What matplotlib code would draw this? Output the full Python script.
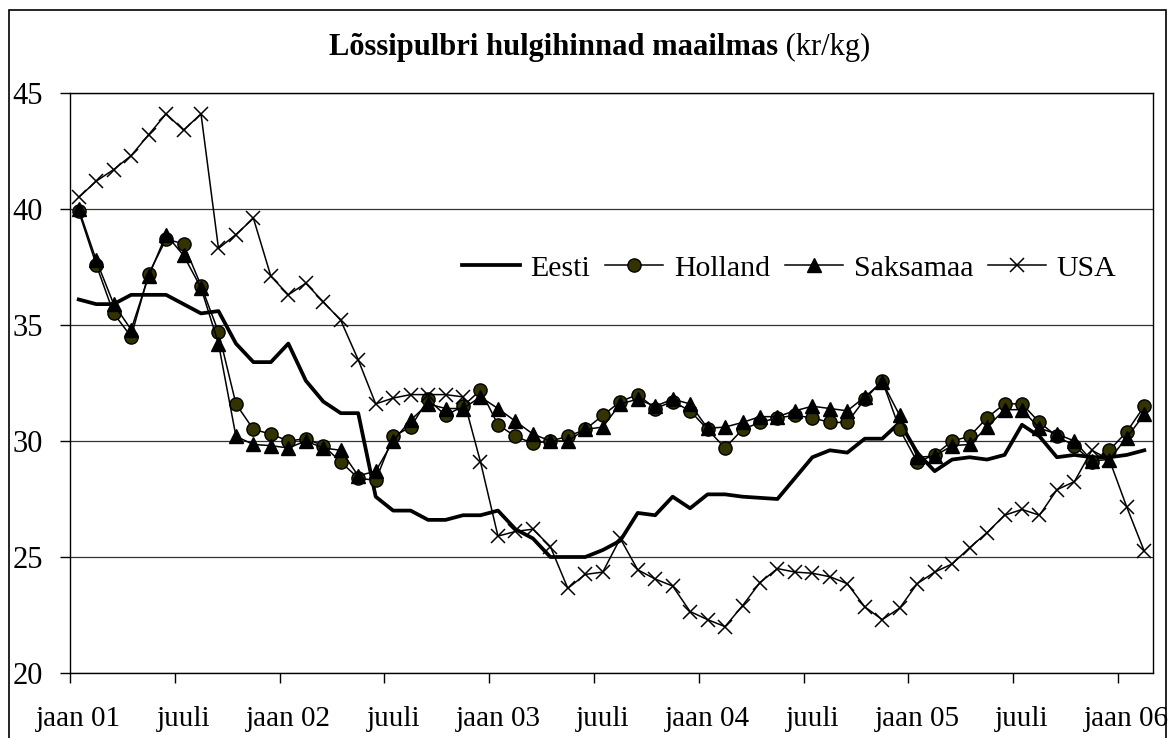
import numpy as np
import matplotlib
matplotlib.use('Agg')
import matplotlib.pyplot as plt
from matplotlib.patches import Rectangle

plt.rcParams['font.family'] = ['Liberation Serif', 'DejaVu Serif']

# monthly prices jaan 2001 .. veebr 2006 (kr/kg)
eesti = [36.1, 35.9, 35.9, 36.3, 36.3, 36.3, 35.9, 35.5, 35.6, 34.2, 33.4, 33.4,
         34.2, 32.6, 31.7, 31.2, 31.2, 27.6, 27.0, 27.0, 26.6, 26.6, 26.8, 26.8,
         27.0, 26.2, 25.8, 25.0, 25.0, 25.0, 25.3, 25.7, 26.9, 26.8, 27.6, 27.1,
         27.7, 27.7, 27.6, 27.55, 27.5, 28.4, 29.3, 29.6, 29.5, 30.1, 30.1, 30.8,
         29.5, 28.7, 29.2, 29.3, 29.2, 29.4, 30.7, 30.2, 29.3, 29.4, 29.3, 29.3,
         29.4, 29.6]
holland = [39.9, 37.6, 35.5, 34.5, 37.2, 38.7, 38.5, 36.7, 34.7, 31.6, 30.5, 30.3,
           30.0, 30.1, 29.8, 29.1, 28.4, 28.3, 30.2, 30.6, 31.8, 31.1, 31.5, 32.2,
           30.7, 30.2, 29.9, 30.0, 30.2, 30.5, 31.1, 31.7, 32.0, 31.4, 31.7, 31.3,
           30.5, 29.7, 30.5, 30.8, 31.0, 31.1, 31.0, 30.8, 30.8, 31.8, 32.6, 30.5,
           29.1, 29.4, 30.0, 30.2, 31.0, 31.6, 31.6, 30.8, 30.2, 29.8, 29.1, 29.6,
           30.4, 31.5]
saksamaa = [40.0, 37.8, 35.9, 34.8, 37.1, 38.9, 38.0, 36.6, 34.2, 30.2, 29.85, 29.8,
            29.7, 30.0, 29.7, 29.6, 28.5, 28.7, 30.0, 30.9, 31.6, 31.4, 31.4, 31.9,
            31.4, 30.85, 30.3, 30.0, 30.0, 30.5, 30.6, 31.6, 31.8, 31.5, 31.8, 31.6,
            30.55, 30.6, 30.8, 31.05, 31.05, 31.3, 31.5, 31.4, 31.3, 31.9, 32.55, 31.1,
            29.3, 29.35, 29.8, 29.85, 30.6, 31.35, 31.35, 30.55, 30.3, 30.0, 29.15, 29.2,
            30.15, 31.15]
usa = [40.5, 41.2, 41.7, 42.3, 43.2, 44.1, 43.4, 44.1, 38.3, 38.9, 39.6, 37.1,
       36.3, 36.8, 36.0, 35.2, 33.5, 31.6, 31.85, 32.0, 32.0, 32.0, 31.9, 29.1,
       25.9, 26.1, 26.2, 25.45, 23.65, 24.25, 24.35, 25.8, 24.45, 24.05, 23.75, 22.65,
       22.3, 22.0, 22.9, 23.9, 24.5, 24.35, 24.3, 24.15, 23.85, 22.85, 22.3, 22.8,
       23.85, 24.35, 24.7, 25.4, 26.05, 26.8, 27.05, 26.8, 27.9, 28.25, 29.6, 29.2,
       27.15, 25.25]
tick_labels = ['jaan 01', 'juuli', 'jaan 02', 'juuli', 'jaan 03', 'juuli',
               'jaan 04', 'juuli', 'jaan 05', 'juuli', 'jaan 06']

n = len(eesti)
x = np.arange(n) + 0.5  # points in the middle of each month

fig = plt.figure(figsize=(11.74, 7.38), dpi=100)
ax = fig.add_axes([70/1174, 65/738, 1083/1174, 580/738])

ax.plot(x, eesti, color='black', lw=2.7, label='Eesti', zorder=3)
ax.plot(x, holland, color='black', lw=1.1, marker='o', ms=9.5, mfc='#333300',
        mec='black', mew=1.0, label='Holland', zorder=4)
ax.plot(x, saksamaa, color='black', lw=1.1, marker='^', ms=10, mfc='black',
        mec='black', label='Saksamaa', zorder=5)
ax.plot(x, usa, color='black', lw=1.1, marker='x', ms=10, mew=1.1,
        label='USA', zorder=6)

ax.set_xlim(0, 62)
ax.set_ylim(20, 45)
ax.set_yticks([20, 25, 30, 35, 40, 45])
ax.yaxis.grid(True, color='#333333', lw=0.9)
ax.set_axisbelow(True)

# tick marks at month starts, labels centred on the month
ax.set_xticks(np.arange(0, 61, 6))
ax.set_xticklabels([])
ax.set_xticks(np.arange(0, 61, 6) + 0.5, minor=True)
ax.set_xticklabels(tick_labels, minor=True, fontsize=21)
ax.tick_params(axis='x', which='major', direction='out', length=7.5, width=1)
ax.tick_params(axis='x', which='minor', length=0, pad=24)
ax.tick_params(axis='y', direction='out', length=7.5, width=1, pad=12, labelsize=22)

for s in ax.spines.values():
    s.set_linewidth(1.0)

ax.legend(loc='center', bbox_to_anchor=(0.664, 0.698), ncol=4, frameon=False,
          fontsize=21.5, handlelength=1.95, handletextpad=0.35, columnspacing=0.5,
          borderaxespad=0)

t1 = fig.text(0, 1 - 47/738, 'Lõssipulbri hulgihinnad maailmas', fontsize=22,
              fontweight='bold', va='center', ha='left')
t2 = fig.text(0, 1 - 47/738, ' (kr/kg)', fontsize=22, va='center', ha='left')

# place the two title parts side by side, centred around x=600px
fig.canvas.draw()
r = fig.canvas.get_renderer()
w1 = t1.get_window_extent(r).width
w2 = t2.get_window_extent(r).width
x0 = 600 - (w1 + w2) / 2
t1.set_x(x0 / 1174)
t2.set_x((x0 + w1) / 1174)

# outer chart frame
fig.patches.append(Rectangle((9/1174, -0.1), 1157/1174, 1.1 - 10/738,
                             transform=fig.transFigure, fill=False,
                             edgecolor='black', lw=1.2))

plt.savefig('out.png', dpi=100)
